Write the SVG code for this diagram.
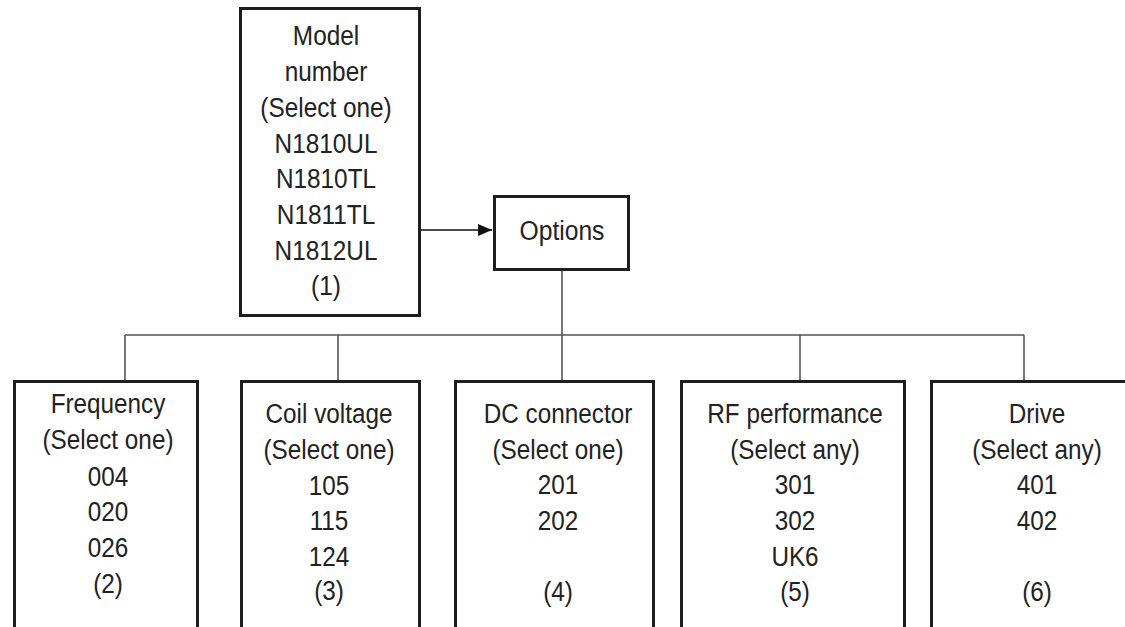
<svg xmlns="http://www.w3.org/2000/svg" width="1125" height="627" viewBox="0 0 1125 627">
  <style>
    .box { fill: #ffffff; stroke: #1e1e1e; stroke-width: 3; }
    .conn { fill: none; stroke: #555555; stroke-width: 1.6; }
    .arrow { fill: none; stroke: #111111; stroke-width: 1.6; }
    text { font-family: "Liberation Sans", Arial, sans-serif; fill: #222222; text-anchor: middle; }
    .t28 { font-size: 28px; }
    .t27 { font-size: 27px; }
  </style>
  <defs>
    <marker id="ah" viewBox="0 0 14 12" refX="14" refY="6" markerWidth="14" markerHeight="12" markerUnits="userSpaceOnUse" orient="auto" preserveAspectRatio="none">
      <path d="M0,0 L14,6 L0,12 z" fill="#111111"/>
    </marker>
  </defs>
  <rect width="1125" height="627" fill="#ffffff"/>

  <g id="connectors">
    <line class="arrow" x1="421" y1="230" x2="492" y2="230" marker-end="url(#ah)"/>
    <line class="conn" x1="562" y1="271" x2="562" y2="335"/>
    <line class="conn" x1="125" y1="335" x2="1024" y2="335"/>
    <line class="conn" x1="125" y1="335" x2="125" y2="380"/>
    <line class="conn" x1="338" y1="335" x2="338" y2="380"/>
    <line class="conn" x1="562" y1="335" x2="562" y2="380"/>
    <line class="conn" x1="800" y1="335" x2="800" y2="380"/>
    <line class="conn" x1="1024" y1="335" x2="1024" y2="380"/>
  </g>

  <g id="model">
    <rect class="box" x="240.5" y="8.5" width="179" height="307"/>
    <g transform="translate(326 0) scale(0.87 1)" class="t28">
      <text x="0" y="45">Model</text>
      <text x="0" y="81">number</text>
      <text x="0" y="117">(Select one)</text>
      <text x="0" y="153">N1810UL</text>
      <text x="0" y="188">N1810TL</text>
      <text x="0" y="224">N1811TL</text>
      <text x="0" y="260">N1812UL</text>
      <text x="0" y="295">(1)</text>
    </g>
  </g>

  <g id="options">
    <rect class="box" x="494.5" y="196.5" width="134" height="73"/>
    <g transform="translate(562 0) scale(0.88 1)" class="t28">
      <text x="0" y="240">Options</text>
    </g>
  </g>

  <g id="frequency">
    <rect class="box" x="14.5" y="381.5" width="183" height="260"/>
    <g transform="translate(108 0) scale(0.9 1)" class="t27">
      <text x="0" y="413">Frequency</text>
      <text x="0" y="449">(Select one)</text>
      <text x="0" y="486">004</text>
      <text x="0" y="521">020</text>
      <text x="0" y="557">026</text>
      <text x="0" y="593">(2)</text>
    </g>
  </g>

  <g id="coil">
    <rect class="box" x="241.5" y="381.5" width="178" height="260"/>
    <g transform="translate(329 0) scale(0.9 1)" class="t27">
      <text x="0" y="423">Coil voltage</text>
      <text x="0" y="459">(Select one)</text>
      <text x="0" y="495">105</text>
      <text x="0" y="530">115</text>
      <text x="0" y="566">124</text>
      <text x="0" y="600">(3)</text>
    </g>
  </g>

  <g id="dc">
    <rect class="box" x="455.5" y="381.5" width="198" height="260"/>
    <g transform="translate(558 0) scale(0.9 1)" class="t27">
      <text x="0" y="423">DC connector</text>
      <text x="0" y="459">(Select one)</text>
      <text x="0" y="494">201</text>
      <text x="0" y="530">202</text>
      <text x="0" y="601">(4)</text>
    </g>
  </g>

  <g id="rf">
    <rect class="box" x="681.5" y="381.5" width="223" height="260"/>
    <g transform="translate(795 0) scale(0.9 1)" class="t27">
      <text x="0" y="423">RF performance</text>
      <text x="0" y="459">(Select any)</text>
      <text x="0" y="494">301</text>
      <text x="0" y="530">302</text>
      <text x="0" y="566">UK6</text>
      <text x="0" y="601">(5)</text>
    </g>
  </g>

  <g id="drive">
    <rect class="box" x="931.5" y="381.5" width="220" height="260"/>
    <g transform="translate(1037 0) scale(0.9 1)" class="t27">
      <text x="0" y="423">Drive</text>
      <text x="0" y="459">(Select any)</text>
      <text x="0" y="494">401</text>
      <text x="0" y="530">402</text>
      <text x="0" y="601">(6)</text>
    </g>
  </g>
</svg>
